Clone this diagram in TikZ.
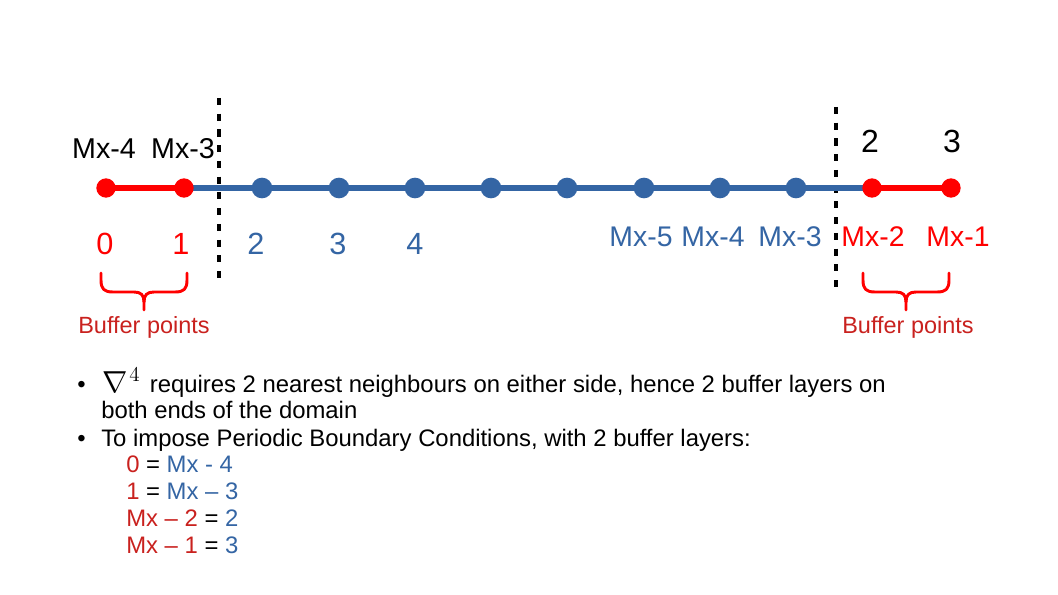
\documentclass[tikz,border=0pt]{standalone}
\usepackage{fontspec}
\setmainfont{Liberation Sans}
\definecolor{ptred}{HTML}{FF0000}
\definecolor{ptblue}{HTML}{3465A4}
\definecolor{txtred}{HTML}{C9211E}
\begin{document}
\begin{tikzpicture}[x=0.75pt,y=-0.75pt,
  redpt/.style={circle,fill=ptred,inner sep=0,minimum size=14.5pt},
  bluept/.style={circle,fill=ptblue,inner sep=0,minimum size=15.5pt},
  lab/.style={anchor=base,inner sep=0,font=\fontsize{21.3}{25}\selectfont},
  biglab/.style={anchor=base,inner sep=0,font=\fontsize{23}{27}\selectfont},
  toplab/.style={anchor=base,inner sep=0,font=\fontsize{21.5}{26}\selectfont},
  topnum/.style={anchor=base,inner sep=0,font=\fontsize{24}{28}\selectfont},
  bufftxt/.style={anchor=base,inner sep=0,text=txtred,font=\fontsize{17.6}{21}\selectfont},
  bodytxt/.style={anchor=base west,inner sep=0,font=\fontsize{17.9}{21}\selectfont},
  divider/.style={line width=3pt,dash pattern=on 5.3pt off 6.5pt},
  bluelink/.style={draw=ptblue,line width=4.1pt},
  redlink/.style={draw=ptred,line width=4.1pt},
  bufbrace/.style={draw=ptred,line width=2.2pt,line cap=round,line join=round},
]
\useasboundingbox (0,0) rectangle (1058,595);

% dividers
\coordinate (dlt) at (219,98);  \coordinate (dlb) at (219,278);
\coordinate (drt) at (836,107); \coordinate (drb) at (836,287);
\draw[divider] (dlt) -- (dlb);
\draw[divider] (drt) -- (drb);

% points
\path (106,188) coordinate (p0) (184,188) coordinate (p1)
      (262,188) coordinate (p2) (339,188) coordinate (p3)
      (415,188) coordinate (p4) (491,188) coordinate (p5)
      (567,188) coordinate (p6) (644,188) coordinate (p7)
      (720,188) coordinate (p8) (796,188) coordinate (p9)
      (872,188) coordinate (p10) (951,188) coordinate (p11);
\draw[bluelink] (p1) -- (p10);
\draw[redlink] (p0) -- (p1);
\draw[redlink] (p10) -- (p11);
\node[redpt] (n0) at (p0) {};
\node[redpt] (n1) at (p1) {};
\foreach \i in {2,...,9} {\node[bluept] (n\i) at (p\i) {};}
\node[redpt] (n10) at (p10) {};
\node[redpt] (n11) at (p11) {};

% top labels
\node[toplab] (tl0) at (104,159) {Mx-4};
\node[toplab] (tl1) at (183,159) {Mx-3};
\node[topnum] (tl10) at (870,153) {2};
\node[topnum] (tl11) at (952,153) {3};

% bottom labels
\node[biglab,text=ptred] (bl0) at (105,255) {0};
\node[biglab,text=ptred] (bl1) at (181,255) {1};
\node[biglab,text=ptblue] (bl2) at (256,255) {2};
\node[biglab,text=ptblue] (bl3) at (338,255) {3};
\node[biglab,text=ptblue] (bl4) at (415,255) {4};
\node[lab,text=ptblue] (bl7) at (641,247) {Mx-5};
\node[lab,text=ptblue] (bl8) at (713,247) {Mx-4};
\node[lab,text=ptblue] (bl9) at (790,247) {Mx-3};
\node[lab,text=ptred] (bl10) at (873,247) {Mx-2};
\node[lab,text=ptred] (bl11) at (958,247) {Mx-1};

% braces
\foreach \s in {0,762} {
\begin{scope}[xshift=\s*0.75pt]
\draw[bufbrace] (101,273) -- (101,280) .. controls (101,289) and (104,292) .. (113,292)
  -- (134,292) .. controls (141,292) and (144,295) .. (144,302) -- (144,310);
\draw[bufbrace] (144,302) .. controls (144,295) and (147,292) .. (154,292)
  -- (175,292) .. controls (184,292) and (187,289) .. (187,280) -- (187,273);
\end{scope}}
\node[bufftxt] (bufL) at (144,334) {Buffer points};
\node[bufftxt] (bufR) at (908,334) {Buffer points};

% bullet text
\node[bodytxt] (b1) at (77,393) {•};
\node[bodytxt] (t1) at (102,393) {\scalebox{1.32}{$\nabla^{\hspace{1pt}4}$}\hspace{2pt} requires 2 nearest neighbours on either side, hence 2 buffer layers on};
\node[bodytxt] (t2) at (101,419) {both ends of the domain};
\node[bodytxt] (b2) at (77,447) {•};
\node[bodytxt] (t3) at (101,447) {To impose Periodic Boundary Conditions, with 2 buffer layers:};
\node[bodytxt] (e1) at (126,473) {\textcolor{txtred}{0} = \textcolor{ptblue}{Mx - 4}};
\node[bodytxt] (e2) at (126,500) {\textcolor{txtred}{1} = \textcolor{ptblue}{Mx – 3}};
\node[bodytxt] (e3) at (126,527) {\textcolor{txtred}{Mx – 2} = \textcolor{ptblue}{2}};
\node[bodytxt] (e4) at (126,553) {\textcolor{txtred}{Mx – 1} = \textcolor{ptblue}{3}};
\end{tikzpicture}
\end{document}
